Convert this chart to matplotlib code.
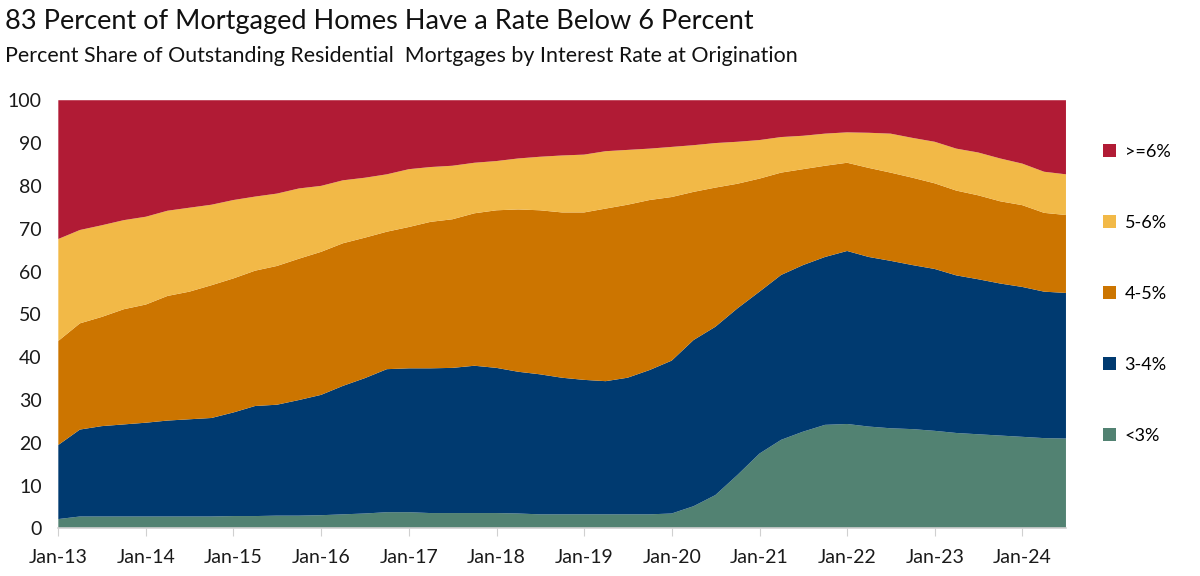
import numpy as np
import pandas as pd
import matplotlib
matplotlib.use("Agg")
import matplotlib.pyplot as plt
import matplotlib.dates as mdates
from matplotlib.patches import Patch

plt.rcParams['font.family'] = ['Lato', 'DejaVu Sans']

# quarterly observations, Jan-13 .. Jul-24
dates = pd.date_range("2013-01-01", periods=47, freq="QS")

# share of outstanding mortgages (percent) by rate bucket
lt3 = [2.2, 2.8, 2.8, 2.8, 2.8, 2.8, 2.8, 2.8, 2.9, 2.9, 3.0, 3.0,
       3.1, 3.3, 3.5, 3.8, 3.8, 3.6, 3.6, 3.6, 3.6, 3.5, 3.3, 3.3,
       3.3, 3.3, 3.3, 3.3, 3.5, 5.2, 7.8, 12.5, 17.5, 20.7, 22.6, 24.2,
       24.4, 23.8, 23.4, 23.2, 22.8, 22.3, 22.0, 21.7, 21.4, 21.1, 21.0]
r3_4 = [17.3, 20.3, 21.1, 21.5, 21.9, 22.4, 22.7, 23.0, 24.2, 25.7, 25.9, 27.0,
        28.1, 30.0, 31.6, 33.4, 33.6, 33.8, 33.9, 34.4, 33.9, 33.1, 32.7, 31.9,
        31.4, 31.1, 31.9, 33.7, 35.7, 38.8, 39.3, 38.9, 37.8, 38.5, 38.9, 39.2,
        40.4, 39.6, 39.1, 38.3, 37.8, 36.8, 36.2, 35.5, 35.0, 34.2, 34.0]
r4_5 = [24.3, 24.8, 25.5, 26.9, 27.6, 29.1, 29.8, 31.0, 31.3, 31.6, 32.4, 33.0,
        33.4, 33.3, 32.8, 32.1, 33.0, 34.2, 34.7, 35.6, 36.8, 37.9, 38.3, 38.6,
        39.1, 40.3, 40.4, 39.7, 38.2, 34.6, 32.5, 29.1, 26.4, 23.9, 22.4, 21.3,
        20.6, 20.8, 20.6, 20.4, 20.0, 19.8, 19.6, 19.2, 19.1, 18.4, 18.2]
r5_6 = [23.8, 21.8, 21.4, 20.8, 20.5, 19.9, 19.6, 18.8, 18.3, 17.3, 16.9, 16.4,
        15.4, 14.7, 14.0, 13.4, 13.5, 12.8, 12.5, 11.8, 11.5, 11.9, 12.5, 13.3,
        13.5, 13.4, 12.8, 12.0, 11.7, 10.9, 10.4, 9.8, 9.0, 8.3, 7.8, 7.5,
        7.1, 8.2, 9.1, 9.3, 9.7, 9.8, 10.0, 10.0, 9.7, 9.6, 9.5]
ge6 = [32.4, 30.3, 29.2, 28.0, 27.2, 25.8, 25.1, 24.4, 23.3, 22.5, 21.8, 20.6,
       20.0, 18.7, 18.1, 17.3, 16.1, 15.6, 15.3, 14.6, 14.2, 13.6, 13.2, 12.9,
       12.7, 11.9, 11.6, 11.3, 10.9, 10.5, 10.0, 9.7, 9.3, 8.6, 8.3, 7.8,
       7.5, 7.6, 7.8, 8.8, 9.7, 11.3, 12.2, 13.6, 14.8, 16.7, 17.3]

labels = ["<3%", "3-4%", "4-5%", "5-6%", ">=6%"]
colors = ["#528272", "#003A70", "#CC7500", "#F2B947", "#B11B35"]

fig = plt.figure(figsize=(12, 5.76), dpi=100)
ax = fig.add_axes([0.0486, 0.0825, 0.8397, 0.7435])

ax.stackplot(dates, lt3, r3_4, r4_5, r5_6, ge6, colors=colors, linewidth=0)

ax.set_xlim(dates[0], dates[-1])
ax.set_ylim(0, 100)
ax.set_yticks(range(0, 101, 10))
ax.xaxis.set_major_locator(mdates.YearLocator(1, month=1, day=1))
ax.xaxis.set_major_formatter(mdates.DateFormatter("%b-%y"))

for s in ["top", "right", "left"]:
    ax.spines[s].set_visible(False)
ax.spines["bottom"].set_color("#d0d0d0")
ax.spines["bottom"].set_linewidth(1.2)
ax.tick_params(axis="y", length=0, labelsize=14, pad=12, colors="#1a1a1a")
ax.tick_params(axis="x", length=6, color="#d0d0d0", labelsize=14, pad=9,
               labelcolor="#1a1a1a")

handles = [Patch(facecolor=c, label=l) for c, l in zip(colors, labels)][::-1]
ax.legend(handles=handles, loc="upper left", bbox_to_anchor=(1.03, 0.915),
          frameon=False, fontsize=13, handlelength=0.72, handleheight=0.72,
          handletextpad=0.45, labelspacing=3.05, borderaxespad=0)

fig.text(0.004, 0.963, "83 Percent of Mortgaged Homes Have a Rate Below 6 Percent",
         fontsize=19.5, va="center", ha="left", color="#111111")
fig.text(0.004, 0.903, "Percent Share of Outstanding Residential  Mortgages by Interest Rate at Origination",
         fontsize=15.4, va="center", ha="left", color="#111111")

fig.savefig("out.png", dpi=100)
